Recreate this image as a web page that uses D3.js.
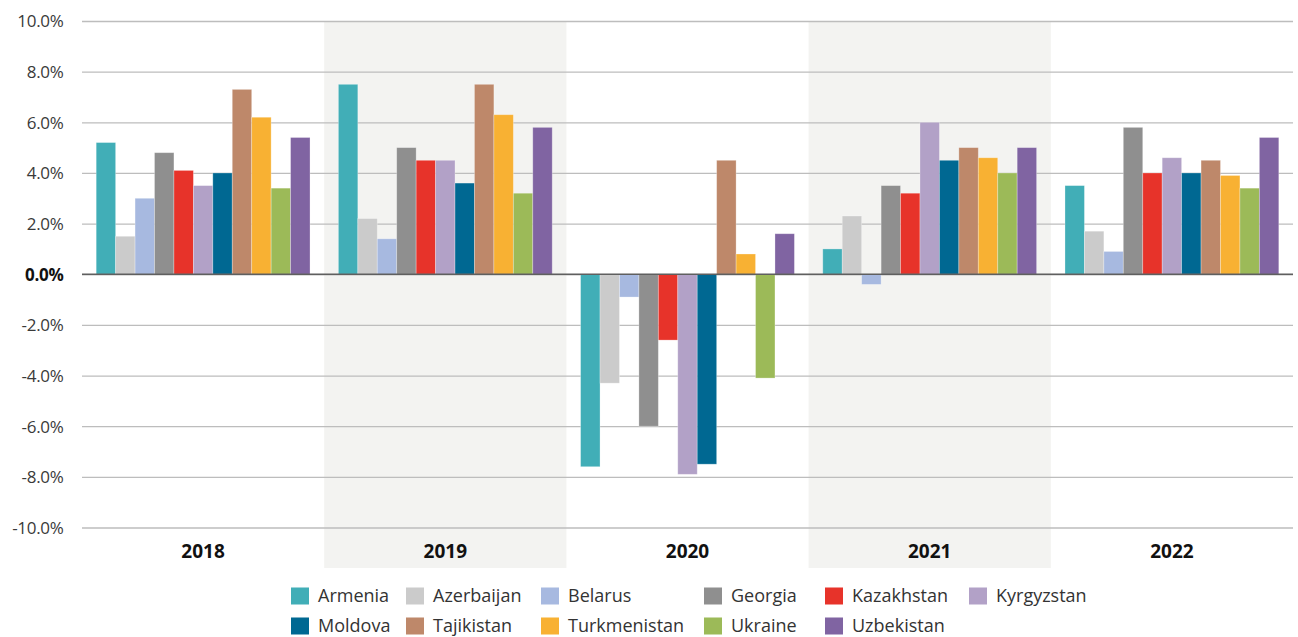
<!DOCTYPE html>
<html>
<head>
<meta charset="utf-8">
<script src="https://cdn.jsdelivr.net/npm/d3@7"></script>
<style>
  html, body { margin: 0; padding: 0; background: #fff; }
  svg { display: block; font-family: "Open Sans", "Noto Sans", sans-serif; }
</style>
</head>
<body>
<svg id="chart" width="1298" height="637"></svg>
<script>
// Real GDP growth, % per year
const years = ["2018", "2019", "2020", "2021", "2022"];
const countries = ["Armenia", "Azerbaijan", "Belarus", "Georgia", "Kazakhstan", "Kyrgyzstan",
                   "Moldova", "Tajikistan", "Turkmenistan", "Ukraine", "Uzbekistan"];

const armenia      = [5.2, 7.5, -7.6, 1.0, 3.5];
const azerbaijan   = [1.5, 2.2, -4.3, 2.3, 1.7];
const belarus      = [3.0, 1.4, -0.9, -0.4, 0.9];
const georgia      = [4.8, 5.0, -6.0, 3.5, 5.8];
const kazakhstan   = [4.1, 4.5, -2.6, 3.2, 4.0];
const kyrgyzstan   = [3.5, 4.5, -7.9, 6.0, 4.6];
const moldova      = [4.0, 3.6, -7.5, 4.5, 4.0];
const tajikistan   = [7.3, 7.5, 4.5, 5.0, 4.5];
const turkmenistan = [6.2, 6.3, 0.8, 4.6, 3.9];
const ukraine      = [3.4, 3.2, -4.1, 4.0, 3.4];
const uzbekistan   = [5.4, 5.8, 1.6, 5.0, 5.4];

const yTicks = [-10, -8, -6, -4, -2, 0, 2, 4, 6, 8, 10];

const colors = ["#41aeb7", "#cbcbcb", "#a7b9e0", "#8f8f8f", "#e7332a", "#b2a1c7",
                "#006892", "#be886a", "#f8b133", "#9cba58", "#8064a2"];

const seriesValues = [armenia, azerbaijan, belarus, georgia, kazakhstan, kyrgyzstan,
                      moldova, tajikistan, turkmenistan, ukraine, uzbekistan];

const rows = [];
years.forEach((yr, i) => {
  countries.forEach((c, j) => rows.push({ year: yr, country: c, value: seriesValues[j][i] }));
});

// Layout
const plot = { left: 82, right: 1293, top: 21, bottom: 527.5 };
const svg = d3.select("#chart");

const x0 = d3.scaleBand().domain(years).range([plot.left, plot.right]).padding(0);
const x1 = d3.scaleBand().domain(countries).range([0, x0.bandwidth()])
  .paddingInner(0).paddingOuter(0.73);
const y = d3.scaleLinear().domain([-10, 10]).range([plot.bottom, plot.top]);
const color = d3.scaleOrdinal().domain(countries).range(colors);

// Alternating shaded year bands
svg.append("g").selectAll("rect")
  .data(years.filter((d, i) => i % 2 === 1))
  .join("rect")
  .attr("x", d => x0(d))
  .attr("y", plot.top)
  .attr("width", x0.bandwidth())
  .attr("height", 568 - plot.top)
  .attr("fill", "#f3f3f1");

// Horizontal gridlines and labels
const yAxis = d3.axisLeft(y)
  .tickValues(yTicks)
  .tickSize(0)
  .tickPadding(0)
  .tickFormat(d => d3.format(".1f")(d).replace("\u2212", "-") + "%");

const gAxis = svg.append("g")
  .attr("transform", `translate(${plot.left},0)`)
  .call(yAxis);
gAxis.select(".domain").remove();
gAxis.selectAll(".tick line")
  .attr("x1", 0)
  .attr("x2", plot.right - plot.left)
  .attr("stroke", "#bdbdbd")
  .attr("stroke-width", 1.3);
gAxis.selectAll(".tick text")
  .attr("x", -18.5)
  .attr("dy", "0.35em")
  .attr("font-family", "\"Open Sans\", sans-serif")
  .attr("font-size", 17)
  .attr("fill", d => d === 0 ? "#111" : "#3a3a3a")
  .attr("font-weight", d => d === 0 ? 700 : 400)
  .style("letter-spacing", "-0.3px");

// Bars
svg.append("g").selectAll("rect")
  .data(rows)
  .join("rect")
  .attr("x", d => x0(d.year) + x1(d.country))
  .attr("y", d => y(Math.max(0, d.value)))
  .attr("width", x1.bandwidth())
  .attr("height", d => Math.abs(y(d.value) - y(0)))
  .attr("fill", d => color(d.country))
  .attr("stroke", "rgba(255,255,255,0.35)")
  .attr("stroke-width", 0.8);

// Zero baseline
svg.append("line")
  .attr("x1", plot.left).attr("x2", plot.right)
  .attr("y1", y(0)).attr("y2", y(0))
  .attr("stroke", "#5f5f5f")
  .attr("stroke-width", 1.6);

// Year labels
const xAxis = d3.axisBottom(x0).tickSize(0).tickPadding(0);
const gx = svg.append("g")
  .attr("transform", `translate(0,551)`)
  .call(xAxis);
gx.select(".domain").remove();
gx.selectAll(".tick text")
  .attr("y", 0)
  .attr("dy", "0.35em")
  .attr("font-family", "\"Open Sans\", sans-serif")
  .attr("font-size", 19)
  .attr("font-weight", 700)
  .attr("fill", "#111");

// Legend: two rows
const legendCols = [291, 406, 541, 704, 825, 969];
const legendRows = [596, 626];
const legend = svg.append("g").selectAll("g")
  .data(countries)
  .join("g")
  .attr("transform", (d, i) => {
    const r = Math.floor(i / 6), c = i % 6;
    return `translate(${legendCols[c]},${legendRows[r]})`;
  });
legend.append("rect")
  .attr("x", 0).attr("y", -8.5)
  .attr("width", 18).attr("height", 17)
  .attr("fill", d => color(d));
legend.append("text")
  .attr("x", 27).attr("y", 0)
  .attr("dy", "0.35em")
  .attr("font-size", 18)
  .attr("fill", "#333")
  .text(d => d);
</script>
</body>
</html>
